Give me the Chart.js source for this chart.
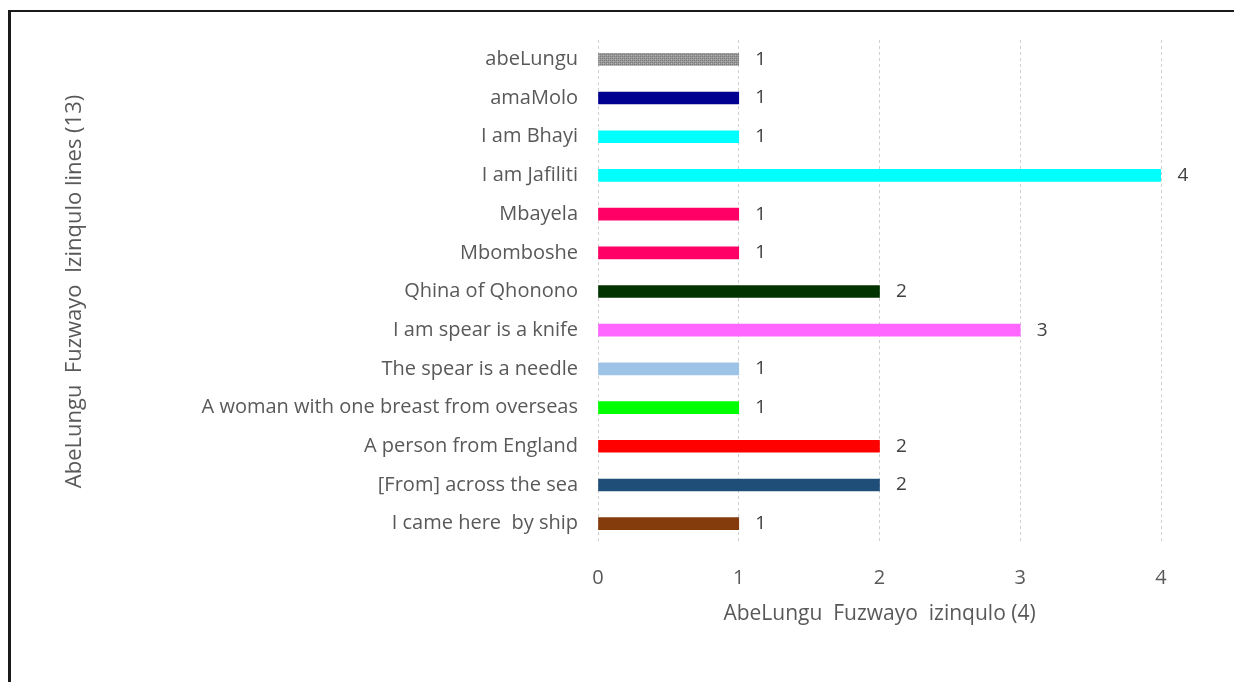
<!DOCTYPE html>
<html>
<head>
<meta charset="utf-8">
<script src="https://cdn.jsdelivr.net/npm/chart.js@4.4.1/dist/chart.umd.min.js"></script>
<style>
  html, body { margin: 0; padding: 0; background: #fff; overflow: hidden; }
  #wrap { position: relative; width: 1234px; height: 682px; }
  #frame {
    position: absolute; left: 8px; top: 10px; width: 1300px; height: 700px;
    border-top: 2px solid #1a1a1a; border-left: 3px solid #1a1a1a;
  }
  canvas { position: absolute; left: 0; top: 0; }
</style>
</head>
<body>
<div id="wrap">
  <div id="frame"></div>
  <canvas id="lines" width="1234" height="682"></canvas>
</div>
<script>
// Izinqulo lines, top to bottom
const lineLabels = [
  "abeLungu",
  "amaMolo",
  "I am Bhayi",
  "I am Jafiliti",
  "Mbayela",
  "Mbomboshe",
  "Qhina of Qhonono",
  "I am spear is a knife",
  "The spear is a needle",
  "A woman with one breast from overseas",
  "A person from England",
  "[From] across the sea",
  "I came here  by ship"
];
const lineCounts = [1, 1, 1, 4, 1, 1, 2, 3, 1, 1, 2, 2, 1];
const xTicks = [0, 1, 2, 3, 4];

const yTitle = "AbeLungu  Fuzwayo  Izinqulo lines (13)";
const xTitle = "AbeLungu  Fuzwayo  izinqulo (4)";

// speckled grey fill for the first bar
function speckle() {
  const c = document.createElement('canvas');
  c.width = 4; c.height = 4;
  const g = c.getContext('2d');
  g.fillStyle = '#9a9a9a';
  g.fillRect(0, 0, 4, 4);
  g.fillStyle = '#7a7a7a';
  g.fillRect(0, 0, 1, 1); g.fillRect(2, 2, 1, 1);
  g.fillRect(2, 0, 1, 1); g.fillRect(0, 2, 1, 1);
  g.fillStyle = '#b0b0b0';
  g.fillRect(1, 1, 1, 1); g.fillRect(3, 3, 1, 1);
  return g.createPattern(c, 'repeat');
}

const ctx = document.getElementById('lines').getContext('2d');
const barColors = [
  speckle(), '#000090', '#00ffff', '#00ffff', '#ff0066', '#ff0066', '#003300',
  '#ff66ff', '#9dc3e6', '#00ff00', '#ff0000', '#1f4e79', '#843c0c'
];

// value printed just past the end of each bar
const valueLabels = {
  id: 'valueLabels',
  afterDatasetsDraw(chart) {
    const c = chart.ctx;
    const meta = chart.getDatasetMeta(0);
    c.save();
    c.font = '19px "Open Sans"';
    c.fillStyle = '#404040';
    c.textAlign = 'center';
    c.textBaseline = 'middle';
    meta.data.forEach((bar, i) => {
      c.fillText(String(lineCounts[i]), bar.x + 22, bar.y);
    });
    c.restore();
  }
};

const textColor = '#595959';
const font = { family: '"Open Sans"', size: 20 };
const titleFont = { family: '"Open Sans"', size: 21 };

new Chart(ctx, {
  type: 'bar',
  data: {
    labels: lineLabels,
    datasets: [{
      data: lineCounts,
      backgroundColor: barColors,
      barThickness: 12
    }]
  },
  options: {
    indexAxis: 'y',
    responsive: false,
    animation: false,
    layout: { padding: { left: 62, top: 40, right: 73, bottom: 55 } },
    plugins: {
      legend: { display: false },
      tooltip: { enabled: false }
    },
    scales: {
      x: {
        min: 0, max: 4,
        afterBuildTicks: (s) => { s.ticks = xTicks.map(v => ({ value: v })); },
        afterFit: (s) => { s.height = 84; },
        ticks: { color: textColor, font, padding: 23 },
        grid: { color: '#cfcfcf', drawTicks: false },
        border: { display: false, dash: [3, 3] },
        title: {
          display: true, text: xTitle, color: textColor, font: titleFont,
          padding: { top: 0, bottom: 0 }
        }
      },
      y: {
        afterFit: (s) => { s.width = 598 - 62; },
        ticks: { color: textColor, font, padding: 20, autoSkip: false },
        grid: { display: false, drawTicks: false },
        border: { display: false },
        title: {
          display: true, text: yTitle, color: textColor,
          font: { family: '"Open Sans"', size: 22 },
          padding: { top: 0, bottom: 0 }
        }
      }
    }
  },
  plugins: [valueLabels]
});
</script>
</body>
</html>
